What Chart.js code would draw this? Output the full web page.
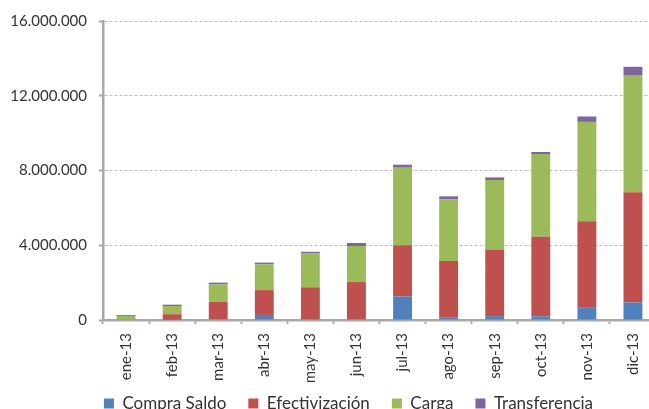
<!DOCTYPE html>
<html>
<head>
<meta charset="utf-8">
<title>Operaciones 2013</title>
<script src="https://cdn.jsdelivr.net/npm/chart.js@4/dist/chart.umd.min.js"></script>
<style>
	html, body { margin: 0; padding: 0; background: #fff; overflow: hidden; }
	#wrap { width: 660px; height: 431px; }
</style>
</head>
<body>
<div id="wrap"><canvas id="stat-operaciones" width="660" height="431"></canvas></div>
<script>
	'use strict';

	var months = ['ene-13', 'feb-13', 'mar-13', 'abr-13', 'may-13', 'jun-13',
		'jul-13', 'ago-13', 'sep-13', 'oct-13', 'nov-13', 'dic-13'];

	var compraSaldo    = [0, 10000, 50000, 270000, 30000, 30000, 1260000, 150000, 210000, 200000, 690000, 940000];
	var efectivizacion = [20000, 300000, 920000, 1330000, 1720000, 2000000, 2740000, 3010000, 3560000, 4250000, 4590000, 5900000];
	var carga          = [200000, 440000, 940000, 1380000, 1810000, 1930000, 4150000, 3300000, 3720000, 4430000, 5320000, 6270000];
	var transferencia  = [50000, 70000, 90000, 90000, 90000, 160000, 160000, 160000, 140000, 110000, 290000, 440000];

	var yTicks = [0, 4000000, 8000000, 12000000, 16000000];

	var axisGray = '#a8a8a8',
		textColor = '#333333',
		font = { family: 'Lato, Calibri, sans-serif', size: 15 },
		legendFont = { family: 'Lato, Calibri, sans-serif', size: 17 };

	//thousands with dots, like the spanish locale
	function dots(v){
		return String(v).replace(/\B(?=(\d{3})+(?!\d))/g, '.');
	}

	function serie(label, data, color){
		return {
			label : label,
			data : data,
			backgroundColor : color,
			borderWidth : 0,
			categoryPercentage : 1,
			barPercentage : 0.41
		};
	}

	//the legend sits a bit higher and more to the right than chart.js puts it
	var legendNudge = {
		id : 'legendNudge',
		afterLayout : function(chart){
			var lg = chart.legend, dx = 15, dy = -9;
			lg.left += dx; lg.right += dx;
			lg.top += dy; lg.bottom += dy;
		}
	};

	var chart = new Chart(document.getElementById('stat-operaciones').getContext('2d'), {
		type : 'bar',
		plugins : [legendNudge],
		data : {
			labels : months,
			datasets : [
				serie('Compra Saldo', compraSaldo, '#4f81bd'),
				serie('Efectivización', efectivizacion, '#c0504d'),
				serie('Carga', carga, '#9bbb59'),
				serie('Transferencia', transferencia, '#8064a2')
			]
		},
		options : {
			responsive : false,
			animation : false,
			layout : { padding : { top : 19, left : 8, right : 1, bottom : 0 } },
			plugins : {
				tooltip : { enabled : false },
				legend : {
					position : 'bottom',
					labels : {
						boxWidth : 10,
						boxHeight : 10,
						padding : 22,
						color : textColor,
						font : legendFont
					}
				}
			},
			scales : {
				x : {
					stacked : true,
					afterFit : function(scale){ scale.height = 62; },
					grid : {
						offset : true,
						drawOnChartArea : false,
						tickLength : 4,
						tickWidth : 2,
						tickColor : axisGray
					},
					border : { color : axisGray, width : 2.5 },
					ticks : {
						minRotation : 90,
						maxRotation : 90,
						padding : 9,
						color : textColor,
						font : font
					}
				},
				y : {
					stacked : true,
					min : 0,
					max : 16000000,
					afterFit : function(scale){ scale.width = 95; },
					afterBuildTicks : function(scale){
						scale.ticks = yTicks.map(function(v){ return { value : v }; });
					},
					grid : {
						color : '#bdbdbd',
						lineWidth : 1,
						tickLength : 4,
						tickWidth : 2,
						tickColor : axisGray,
						tickBorderDash : []
					},
					border : { color : axisGray, width : 2.5, dash : [3, 2] },
					ticks : {
						padding : 12,
						color : textColor,
						font : font,
						callback : function(v){ return dots(v); }
					}
				}
			}
		}
	});
</script>
</body>
</html>
